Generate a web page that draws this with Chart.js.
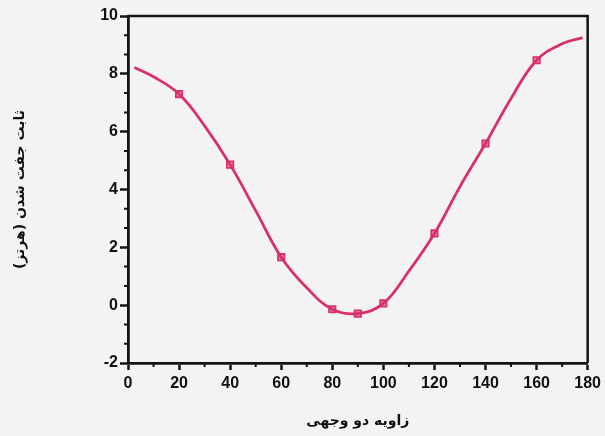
<!DOCTYPE html>
<html>
<head>
<meta charset="utf-8">
<script src="https://cdn.jsdelivr.net/npm/chart.js@4/dist/chart.umd.min.js"></script>
<style>
    html, body { margin: 0; padding: 0; background: #f3f3f1; }
    #wrap { width: 605px; height: 436px; position: relative; }
</style>
</head>
<body>
<div id="wrap"><canvas id="jChart"></canvas></div>
<script>
// measured points (dihedral angle, coupling constant in Hz)
const angles = [20, 40, 60, 80, 90, 100, 120, 140, 160];
const couplings = [7.30, 4.86, 1.66, -0.14, -0.29, 0.06, 2.48, 5.59, 8.47];

// fitted curve
const curveAngles = [2.5, 10, 20, 30, 40, 50, 60, 70, 80, 90, 100, 110, 120, 130, 140, 150, 160, 170, 178];
const curveValues = [8.22, 7.90, 7.30, 6.20, 4.86, 3.27, 1.66, 0.60, -0.14, -0.29, 0.06, 1.18, 2.48, 4.10, 5.59, 7.15, 8.47, 9.04, 9.25];

const xTicks = [0, 20, 40, 60, 80, 100, 120, 140, 160, 180];
const yTicks = [-2, 0, 2, 4, 6, 8, 10];

const xTitle = 'زاویه دو وجهی';
const yTitle = 'ثابت جفت شدن (هرتز)';

const lineColor = '#d8316a';
const axisColor = '#141414';

// frame on top/right plus minor ticks
const framePlugin = {
    id: 'frame',
    afterDraw(chart) {
        const { ctx, chartArea } = chart;
        const xs = chart.scales.x, ys = chart.scales.y;
        ctx.save();
        ctx.strokeStyle = axisColor;
        ctx.lineWidth = 2.5;
        ctx.beginPath();
        ctx.moveTo(chartArea.left, chartArea.top);
        ctx.lineTo(chartArea.right, chartArea.top);
        ctx.lineTo(chartArea.right, chartArea.bottom);
        ctx.stroke();

        // minor ticks
        ctx.lineWidth = 2;
        ctx.beginPath();
        for (let v = 10; v < 180; v += 20) {
            const px = xs.getPixelForValue(v);
            ctx.moveTo(px, chartArea.bottom);
            ctx.lineTo(px, chartArea.bottom + 4);
        }
        for (let i = 0; i < yTicks.length - 1; i++) {
            for (let k = 1; k < 3; k++) {
                const py = ys.getPixelForValue(yTicks[i] + k * 2 / 3);
                ctx.moveTo(chartArea.left, py);
                ctx.lineTo(chartArea.left - 4, py);
            }
        }
        ctx.stroke();
        ctx.restore();
    }
};

new Chart(document.getElementById('jChart'), {
    type: 'line',
    data: {
        datasets: [
            {
                label: 'curve',
                data: curveAngles.map((a, i) => ({ x: a, y: curveValues[i] })),
                borderColor: lineColor,
                borderWidth: 2.8,
                pointRadius: 0,
                tension: 0.4,
                fill: false
            },
            {
                label: 'measured',
                data: angles.map((a, i) => ({ x: a, y: couplings[i] })),
                showLine: false,
                pointStyle: 'rect',
                pointRadius: 4.5,
                borderWidth: 1.8,
                pointBorderColor: lineColor,
                pointBackgroundColor: 'rgba(238, 130, 165, 0.9)'
            }
        ]
    },
    options: {
        responsive: true,
        maintainAspectRatio: false,
        animation: false,
        layout: { padding: { top: 16, right: 16, left: 0, bottom: 0 } },
        plugins: {
            legend: { display: false },
            tooltip: { enabled: false }
        },
        scales: {
            x: {
                type: 'linear',
                min: 0,
                max: 180,
                afterBuildTicks: s => { s.ticks = xTicks.map(v => ({ value: v })); },
                afterFit: s => { s.height = 73; },
                ticks: {
                    color: '#111',
                    font: { family: 'Liberation Sans', size: 16, weight: 'bold' },
                    padding: 4,
                    maxRotation: 0
                },
                grid: { drawOnChartArea: false, tickLength: 7, tickWidth: 2.5, tickColor: axisColor },
                border: { color: axisColor, width: 2.8 },
                title: {
                    display: true,
                    text: xTitle,
                    color: '#111',
                    font: { family: 'DejaVu Sans', size: 14, weight: 'bold' },
                    padding: { bottom: 6 }
                }
            },
            y: {
                min: -2,
                max: 10,
                afterBuildTicks: s => { s.ticks = yTicks.map(v => ({ value: v })); },
                afterFit: s => { s.width = 128; },
                ticks: {
                    color: '#111',
                    font: { family: 'Liberation Sans', size: 16, weight: 'bold' },
                    padding: 2
                },
                grid: { drawOnChartArea: false, tickLength: 8, tickWidth: 2.5, tickColor: axisColor },
                border: { color: axisColor, width: 2.8 },
                title: {
                    display: true,
                    text: yTitle,
                    color: '#111',
                    font: { family: 'DejaVu Sans', size: 14, weight: 'bold' },
                    padding: { top: 12 }
                }
            }
        }
    },
    plugins: [framePlugin]
});
</script>
</body>
</html>
